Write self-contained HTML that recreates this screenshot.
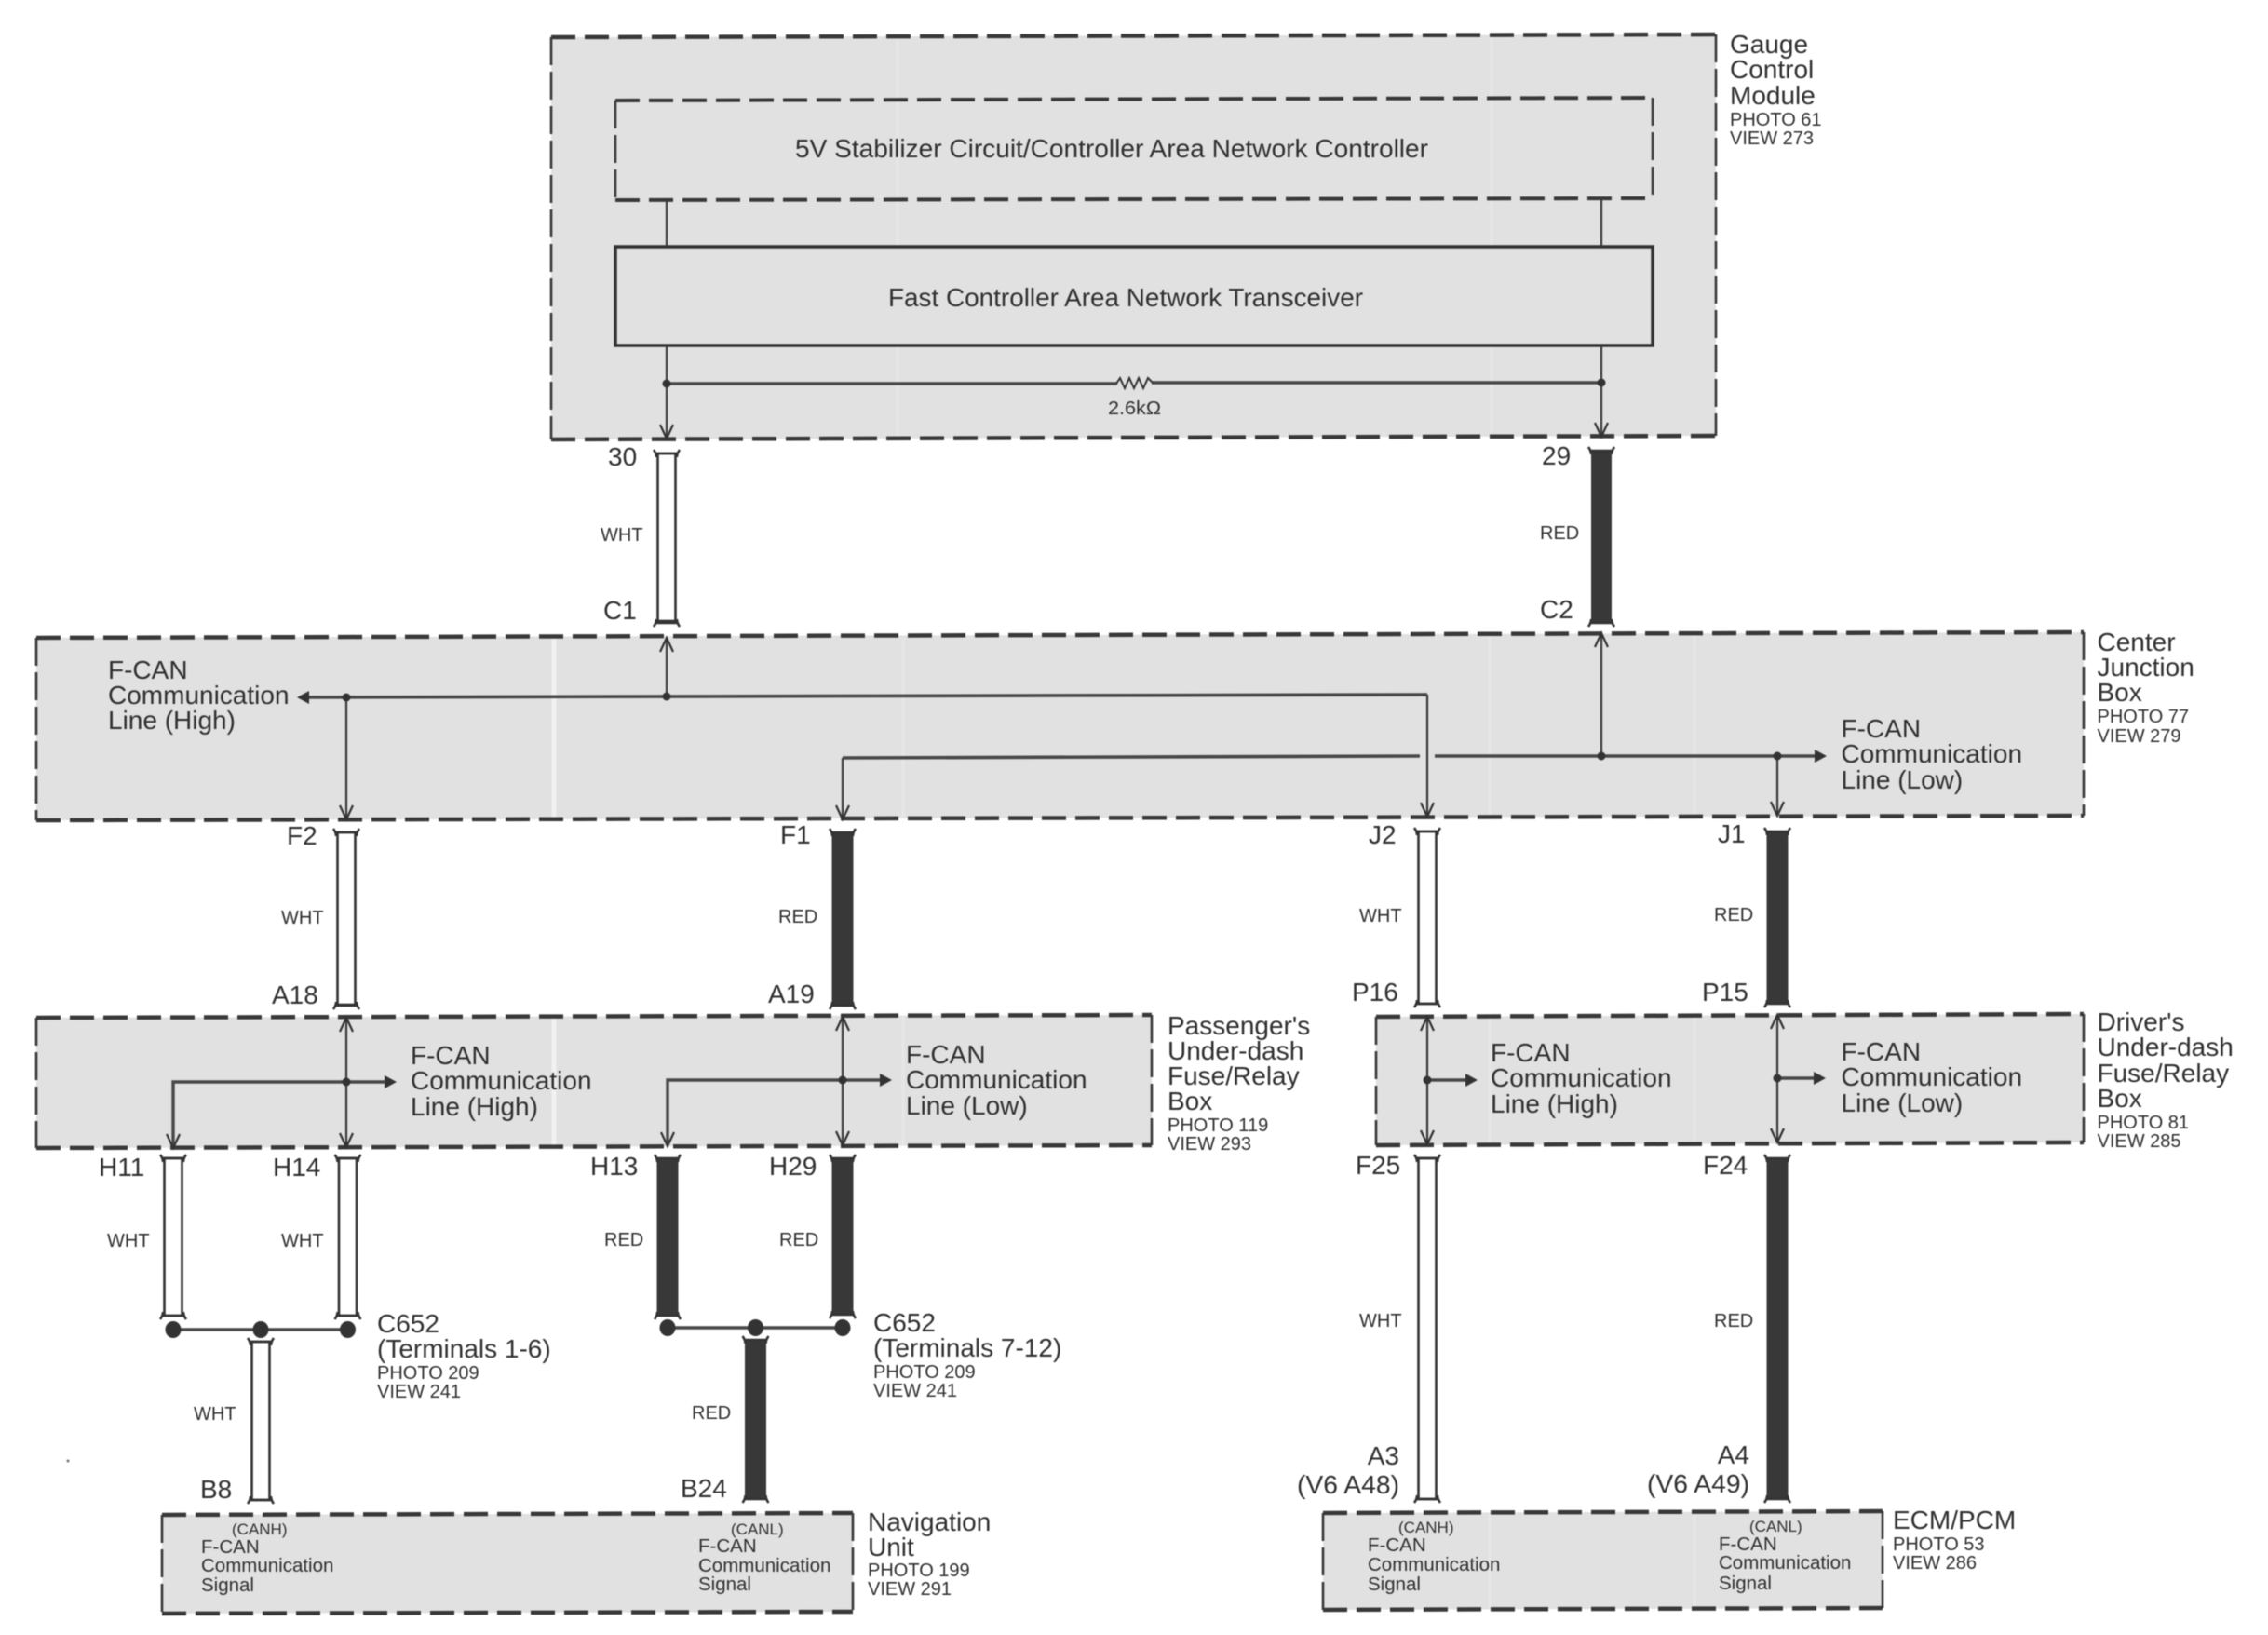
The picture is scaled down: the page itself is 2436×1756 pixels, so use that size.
<!DOCTYPE html>
<html lang="en">
<head>
<meta charset="utf-8">
<title>F-CAN Communication Circuit Diagram</title>
<style>
html,body{margin:0;padding:0;background:#fff;width:2436px;height:1756px;overflow:hidden}
svg{display:block;filter:blur(.6px)}
text{font-family:"Liberation Sans",Arial,sans-serif;fill:#303030}
.L{font-size:28px}
.S{font-size:20px}
.T{font-size:20.5px}
.X{font-size:17px}
.box{fill:#e1e1e1;stroke:none}
.dh{fill:none;stroke:#383838;stroke-width:4.5;stroke-dasharray:26 10}
.dv{fill:none;stroke:#383838;stroke-width:2.6;stroke-dasharray:30 7}
.w{fill:none;stroke:#383838;stroke-width:2.2}
.t{fill:none;stroke:#484848;stroke-width:3.6}
.wh{fill:#fff;stroke:#333;stroke-width:2.6}
.rd{fill:#383838;stroke:#383838;stroke-width:1}
.streak{stroke:#fff;stroke-width:5;opacity:.55}
.streak2{stroke:#f3f3f3;stroke-width:3;opacity:.35}
</style>
</head>
<body>
<svg xmlns="http://www.w3.org/2000/svg" width="2436" height="1756" viewBox="0 0 2436 1756">
<defs>
<path id="ct" d="M-14 -1Q-11 3-11 7M14 -1Q11 3 11 7M-11 3H11" fill="none" stroke="#333" stroke-width="2.6"/>
<path id="cb" d="M-14 1Q-11 -3-11 -7M14 1Q11 -3 11 -7M-11 -3H11" fill="none" stroke="#333" stroke-width="2.6"/>
<path id="ad" d="M-7 -15L0 0L7 -15" fill="none" stroke="#333" stroke-width="2.2"/>
<path id="au" d="M-7 15L0 0L7 15" fill="none" stroke="#333" stroke-width="2.2"/>
<path id="ar" d="M-13 -7L0 0L-13 7Z" fill="#333"/>
<path id="al" d="M13 -7L0 0L13 7Z" fill="#333"/>
</defs>

<rect width="2436" height="1756" fill="#fff"/>

<!-- Gauge Control Module -->
<polygon class="box" points="592,40 1843,37 1843,468 592,472"/>
<line class="streak2" x1="964" y1="40" x2="964" y2="470"/>
<line class="streak2" x1="1602" y1="40" x2="1602" y2="468"/>
<path class="dh" d="M592 40L1843 37M592 472L1843 468"/>
<path class="dv" d="M592 40V472M1843 37V468"/>

<path class="dh" d="M661 108L1775 105M661 215L1775 213" style="stroke-width:4"/>
<path class="dv" d="M661 108V215M1775 105V213"/>
<rect x="661" y="265" width="1114" height="106" fill="#e1e1e1" stroke="#333" stroke-width="3.5"/>
<text class="L" x="854" y="169" textLength="680" lengthAdjust="spacingAndGlyphs">5V Stabilizer Circuit/Controller Area Network Controller</text>
<text class="L" x="954" y="329" textLength="510" lengthAdjust="spacingAndGlyphs">Fast Controller Area Network Transceiver</text>

<path class="w" d="M716 215V265M716 371V470M1720 213V265M1720 371V468"/>
<path class="t" d="M716 412H1200M1237 411H1720"/>
<path d="M1199 412L1203 406L1208 417L1213 406L1218 417L1223 406L1228 417L1233 406L1238 411" fill="none" stroke="#333" stroke-width="2"/>
<circle cx="716" cy="412" r="4.5" fill="#333"/>
<circle cx="1720" cy="411" r="4.5" fill="#333"/>
<use href="#ad" x="716" y="471"/>
<use href="#ad" x="1720" y="469"/>
<text class="S" x="1190" y="445" textLength="57" lengthAdjust="spacingAndGlyphs">2.6kΩ</text>

<text class="L" x="1858" y="57">Gauge</text>
<text class="L" x="1858" y="84">Control</text>
<text class="L" x="1858" y="112">Module</text>
<text class="S" x="1858" y="135">PHOTO 61</text>
<text class="S" x="1858" y="155">VIEW 273</text>

<!-- Connectors top -->
<rect class="wh" x="706.500" y="487" width="19" height="180"/><use href="#ct" x="716" y="484"/><use href="#cb" x="716" y="672"/>
<rect class="rd" x="1709.500" y="484" width="21" height="185"/><use href="#ct" x="1720" y="481"/><use href="#cb" x="1720" y="672"/>
<text class="L" x="653" y="500">30</text>
<text class="L" x="1656" y="499">29</text>
<text class="S" x="645" y="581">WHT</text>
<text class="S" x="1654" y="579">RED</text>
<text class="L" x="648" y="665">C1</text>
<text class="L" x="1654" y="664">C2</text>

<!-- Center Junction Box -->
<polygon class="box" points="39,685 2238,679 2238,876 39,881"/>
<line class="streak" x1="595" y1="686" x2="595" y2="880"/>
<line class="streak2" x1="970" y1="686" x2="970" y2="880"/>
<line class="streak2" x1="1600" y1="682" x2="1600" y2="876"/>
<line class="streak2" x1="1820" y1="682" x2="1820" y2="876"/>
<path class="dh" d="M39 685L2238 679M39 881L2238 876"/>
<path class="dv" d="M39 685V881M2238 679V876"/>

<path class="t" d="M325 749L1533 746"/>
<path class="w" d="M1533 746V876M372 749V880M716 685V748"/>
<use href="#al" x="319" y="749"/>
<use href="#ad" x="372" y="880"/>
<use href="#ad" x="1533" y="877"/>
<use href="#au" x="716" y="685"/>
<circle cx="372" cy="749" r="4.5" fill="#333"/>
<circle cx="716" cy="748" r="4.5" fill="#333"/>

<path class="t" d="M905 814L1525 812M1541 812H1950"/>
<path class="w" d="M905 814V879M1720 812V680M1909 812V875"/>
<use href="#ad" x="905" y="880"/>
<use href="#au" x="1720" y="680"/>
<use href="#ad" x="1909" y="876"/>
<use href="#ar" x="1962" y="812"/>
<circle cx="1720" cy="812" r="4.5" fill="#333"/>
<circle cx="1909" cy="812" r="4.5" fill="#333"/>

<text class="L" x="116" y="729">F-CAN</text>
<text class="L" x="116" y="756">Communication</text>
<text class="L" x="116" y="783">Line (High)</text>
<text class="L" x="1977.500" y="792">F-CAN</text>
<text class="L" x="1977.500" y="819">Communication</text>
<text class="L" x="1977.500" y="847">Line (Low)</text>

<text class="L" x="2252.500" y="699">Center</text>
<text class="L" x="2252.500" y="726">Junction</text>
<text class="L" x="2252.500" y="753">Box</text>
<text class="S" x="2252.500" y="776">PHOTO 77</text>
<text class="S" x="2252.500" y="797">VIEW 279</text>

<!-- Connectors mid -->
<rect class="wh" x="362.500" y="894" width="19" height="185"/><use href="#ct" x="372" y="891"/><use href="#cb" x="372" y="1083"/>
<rect class="rd" x="894" y="894" width="22" height="185"/><use href="#ct" x="905" y="891"/><use href="#cb" x="905" y="1083"/>
<rect class="wh" x="1523.500" y="893" width="19" height="185"/><use href="#ct" x="1533" y="890"/><use href="#cb" x="1533" y="1081"/>
<rect class="rd" x="1898" y="893" width="22" height="185"/><use href="#ct" x="1909" y="890"/><use href="#cb" x="1909" y="1081"/>

<text class="L" x="308" y="907">F2</text>
<text class="L" x="838" y="906">F1</text>
<text class="L" x="1470" y="906">J2</text>
<text class="L" x="1845" y="905">J1</text>
<text class="S" x="302" y="992">WHT</text>
<text class="S" x="836" y="991">RED</text>
<text class="S" x="1460" y="990">WHT</text>
<text class="S" x="1841" y="989">RED</text>
<text class="L" x="292" y="1078">A18</text>
<text class="L" x="825" y="1077">A19</text>
<text class="L" x="1452" y="1075">P16</text>
<text class="L" x="1828" y="1075">P15</text>

<!-- Passenger's Under-dash Fuse/Relay Box -->
<polygon class="box" points="39,1093 1237,1090 1237,1230 39,1233"/>
<line class="streak" x1="595" y1="1093" x2="595" y2="1231"/>
<line class="streak2" x1="970" y1="1092" x2="970" y2="1230"/>
<path class="dh" d="M39 1093L1237 1090M39 1233L1237 1230"/>
<path class="dv" d="M39 1093V1233M1237 1090V1230"/>

<path class="w" d="M372 1093V1232M905 1092V1230"/>
<use href="#au" x="372" y="1093"/><use href="#ad" x="372" y="1232"/>
<use href="#au" x="905" y="1092"/><use href="#ad" x="905" y="1230"/>
<path class="t" d="M186 1232V1162H415" style="stroke-width:3.4"/>
<path class="t" d="M717 1230V1160H947" style="stroke-width:3.4"/>
<use href="#ad" x="186" y="1233"/><use href="#ad" x="717" y="1231"/>
<use href="#ar" x="426" y="1162"/><use href="#ar" x="958" y="1160"/>
<circle cx="372" cy="1162" r="4.5" fill="#333"/>
<circle cx="905" cy="1160" r="4.5" fill="#333"/>

<text class="L" x="441" y="1143">F-CAN</text>
<text class="L" x="441" y="1170">Communication</text>
<text class="L" x="441" y="1198">Line (High)</text>
<text class="L" x="973" y="1142">F-CAN</text>
<text class="L" x="973" y="1169">Communication</text>
<text class="L" x="973" y="1197">Line (Low)</text>

<text class="L" x="1254" y="1111">Passenger's</text>
<text class="L" x="1254" y="1138">Under-dash</text>
<text class="L" x="1254" y="1165">Fuse/Relay</text>
<text class="L" x="1254" y="1192">Box</text>
<text class="S" x="1254" y="1215">PHOTO 119</text>
<text class="S" x="1254" y="1235">VIEW 293</text>

<!-- Driver's Under-dash Fuse/Relay Box -->
<polygon class="box" points="1478,1092 2238,1089 2238,1227 1478,1230"/>
<line class="streak2" x1="1600" y1="1092" x2="1600" y2="1229"/>
<line class="streak2" x1="1820" y1="1090" x2="1820" y2="1228"/>
<path class="dh" d="M1478 1092L2238 1089M1478 1230L2238 1227"/>
<path class="dv" d="M1478 1092V1230M2238 1089V1227"/>
<path class="w" d="M1533 1092V1229M1909 1090V1227"/>
<use href="#au" x="1533" y="1092"/><use href="#ad" x="1533" y="1229"/>
<use href="#au" x="1909" y="1090"/><use href="#ad" x="1909" y="1227"/>
<path class="t" d="M1533 1160H1575M1909 1158H1950" style="stroke-width:3.4"/>
<use href="#ar" x="1587" y="1160"/><use href="#ar" x="1961" y="1158"/>
<circle cx="1533" cy="1160" r="4.5" fill="#333"/>
<circle cx="1909" cy="1158" r="4.5" fill="#333"/>

<text class="L" x="1601" y="1140">F-CAN</text>
<text class="L" x="1601" y="1167">Communication</text>
<text class="L" x="1601" y="1195">Line (High)</text>
<text class="L" x="1977.500" y="1139">F-CAN</text>
<text class="L" x="1977.500" y="1166">Communication</text>
<text class="L" x="1977.500" y="1194">Line (Low)</text>

<text class="L" x="2252.500" y="1107">Driver's</text>
<text class="L" x="2252.500" y="1134">Under-dash</text>
<text class="L" x="2252.500" y="1162">Fuse/Relay</text>
<text class="L" x="2252.500" y="1189">Box</text>
<text class="S" x="2252.500" y="1212">PHOTO 81</text>
<text class="S" x="2252.500" y="1232">VIEW 285</text>

<!-- Connectors lower -->
<rect class="wh" x="176.500" y="1244" width="19" height="169"/><use href="#ct" x="186" y="1241"/><use href="#cb" x="186" y="1416"/>
<rect class="wh" x="364" y="1244" width="19" height="169"/><use href="#ct" x="373.500" y="1241"/><use href="#cb" x="373.500" y="1416"/>
<rect class="rd" x="706" y="1244" width="22" height="169"/><use href="#ct" x="717" y="1241"/><use href="#cb" x="717" y="1416"/>
<rect class="rd" x="894" y="1244" width="22" height="168"/><use href="#ct" x="905" y="1241"/><use href="#cb" x="905" y="1415"/>

<text class="L" x="106" y="1263">H11</text>
<text class="L" x="293" y="1263">H14</text>
<text class="L" x="634" y="1262">H13</text>
<text class="L" x="826" y="1262">H29</text>
<text class="S" x="115" y="1339">WHT</text>
<text class="S" x="302" y="1339">WHT</text>
<text class="S" x="649" y="1338">RED</text>
<text class="S" x="837" y="1338">RED</text>

<path class="t" d="M186 1428H373.500M717 1426H905"/>
<ellipse cx="186" cy="1428" rx="8.5" ry="9" fill="#333"/>
<ellipse cx="280" cy="1428" rx="8.5" ry="9" fill="#333"/>
<ellipse cx="373.500" cy="1428" rx="8.5" ry="9" fill="#333"/>
<ellipse cx="717" cy="1426" rx="8.5" ry="9" fill="#333"/>
<ellipse cx="811.500" cy="1426" rx="8.5" ry="9" fill="#333"/>
<ellipse cx="905" cy="1426" rx="8.5" ry="9" fill="#333"/>

<text class="L" x="405" y="1431">C652</text>
<text class="L" x="405" y="1458">(Terminals 1-6)</text>
<text class="S" x="405" y="1481">PHOTO 209</text>
<text class="S" x="405" y="1501">VIEW 241</text>
<text class="L" x="938" y="1430">C652</text>
<text class="L" x="938" y="1457">(Terminals 7-12)</text>
<text class="S" x="938" y="1480">PHOTO 209</text>
<text class="S" x="938" y="1500">VIEW 241</text>

<rect class="wh" x="270.500" y="1441" width="19" height="170"/><use href="#ct" x="280" y="1438"/><use href="#cb" x="280" y="1614"/>
<rect class="rd" x="800.500" y="1439" width="22" height="171"/><use href="#ct" x="811.500" y="1436"/><use href="#cb" x="811.500" y="1613"/>
<text class="S" x="208" y="1525">WHT</text>
<text class="S" x="743" y="1524">RED</text>
<text class="L" x="215" y="1609">B8</text>
<text class="L" x="731" y="1608">B24</text>

<rect class="wh" x="1523.500" y="1244" width="19" height="366"/><use href="#ct" x="1533" y="1241"/><use href="#cb" x="1533" y="1613"/>
<rect class="rd" x="1898" y="1244" width="22" height="366"/><use href="#ct" x="1909" y="1241"/><use href="#cb" x="1909" y="1613"/>
<text class="L" x="1456" y="1261">F25</text>
<text class="L" x="1829" y="1261">F24</text>
<text class="S" x="1460" y="1425">WHT</text>
<text class="S" x="1841" y="1425">RED</text>
<text class="L" x="1503" y="1573" text-anchor="end">A3</text>
<text class="L" x="1503" y="1604" text-anchor="end" textLength="110" lengthAdjust="spacingAndGlyphs">(V6 A48)</text>
<text class="L" x="1879" y="1572" text-anchor="end">A4</text>
<text class="L" x="1879" y="1603" text-anchor="end" textLength="110" lengthAdjust="spacingAndGlyphs">(V6 A49)</text>

<!-- Navigation Unit -->
<polygon class="box" points="174,1627 916,1625 916,1731 174,1733"/>
<path class="dh" d="M174 1627L916 1625M174 1733L916 1731"/>
<path class="dv" d="M174 1627V1733M916 1625V1731"/>
<text class="X" x="249" y="1648">(CANH)</text>
<text class="T" x="216" y="1668">F-CAN</text>
<text class="T" x="216" y="1688">Communication</text>
<text class="T" x="216" y="1709">Signal</text>
<text class="X" x="785" y="1648">(CANL)</text>
<text class="T" x="750" y="1667">F-CAN</text>
<text class="T" x="750" y="1688">Communication</text>
<text class="T" x="750" y="1708">Signal</text>
<text class="L" x="932" y="1644">Navigation</text>
<text class="L" x="932" y="1671">Unit</text>
<text class="S" x="932" y="1693">PHOTO 199</text>
<text class="S" x="932" y="1713">VIEW 291</text>

<!-- ECM/PCM -->
<polygon class="box" points="1421,1625 2022,1623 2022,1727 1421,1729"/>
<line class="streak2" x1="1600" y1="1626" x2="1600" y2="1728"/>
<line class="streak2" x1="1820" y1="1624" x2="1820" y2="1727"/>
<path class="dh" d="M1421 1625L2022 1623M1421 1729L2022 1727"/>
<path class="dv" d="M1421 1625V1729M2022 1623V1727"/>
<text class="X" x="1502" y="1646">(CANH)</text>
<text class="T" x="1469" y="1666">F-CAN</text>
<text class="T" x="1469" y="1687">Communication</text>
<text class="T" x="1469" y="1708">Signal</text>
<text class="X" x="1879" y="1645">(CANL)</text>
<text class="T" x="1846" y="1665">F-CAN</text>
<text class="T" x="1846" y="1685">Communication</text>
<text class="T" x="1846" y="1707">Signal</text>
<text class="L" x="2033" y="1642">ECM/PCM</text>
<text class="S" x="2033" y="1665">PHOTO 53</text>
<text class="S" x="2033" y="1685">VIEW 286</text>

<circle cx="73" cy="1569" r="1.5" fill="#777"/>
</svg>
</body>
</html>
